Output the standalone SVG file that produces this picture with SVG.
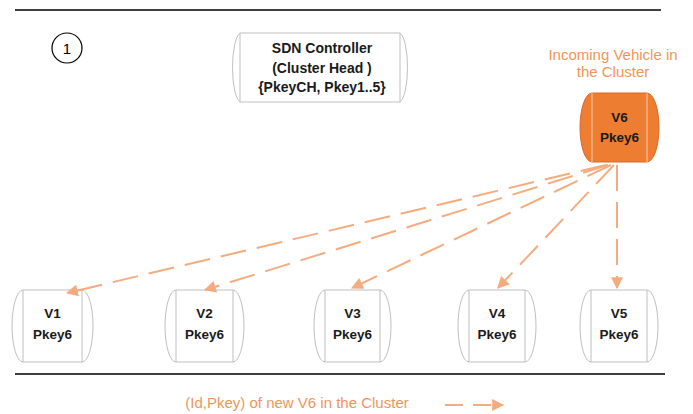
<svg xmlns="http://www.w3.org/2000/svg" width="693" height="414" viewBox="0 0 693 414">
<style>
.bg{fill:#ffffff}
.rule{stroke:#000;stroke-width:1.3;fill:none}
.node{fill:#ffffff;stroke:#bfbfbf;stroke-width:1}
.inner{stroke:#bfbfbf;stroke-width:1;fill:none}
.hot{fill:#ED7D31;stroke:#D9692A;stroke-width:1}
.hotinner{stroke:#F8CBAD;stroke-width:1;fill:none}
.lbl{font-family:"Liberation Sans",Arial,sans-serif;font-size:13.5px;font-weight:bold;fill:#1a1a1a;text-anchor:middle}
.sdn{font-size:14px}
.note{font-family:"Liberation Sans",Arial,sans-serif;font-size:15px;fill:#F0955A;text-anchor:middle}
.conn{stroke:#F4AC7E;stroke-width:2;fill:none;stroke-dasharray:26 11}
</style>
<defs>
<marker id="ah" viewBox="0 0 10 10" refX="9" refY="5" markerWidth="6.5" markerHeight="6" orient="auto" markerUnits="strokeWidth">
<path d="M0,0 L10,5 L0,10 Z" fill="#F4AC7E"/>
</marker>
</defs>
<rect class="bg" x="0" y="0" width="693" height="414"/>
<line class="rule" x1="15" y1="10" x2="661" y2="10"/>
<line class="rule" x1="15" y1="374" x2="665" y2="374"/>

<g id="step">
<circle cx="67" cy="48" r="15" fill="none" stroke="#000" stroke-width="1.2"/>
<text x="67" y="53.5" font-family="Liberation Sans,Arial,sans-serif" font-size="15" text-anchor="middle" fill="#000">1</text>
</g>

<g id="sdn">
<path class="node" d="M240,33 L400,33 A9,35 0 0 1 400,102 L240,102 A9,35 0 0 1 240,33 Z"/>
<line class="inner" x1="240" y1="33" x2="240" y2="102"/>
<line class="inner" x1="400" y1="33" x2="400" y2="102"/>
<text class="lbl sdn" x="322" y="53">SDN Controller</text>
<text class="lbl sdn" x="322" y="73">(Cluster Head )</text>
<text class="lbl sdn" x="322" y="92">{PkeyCH, Pkey1..5}</text>
</g>

<g id="incoming-label">
<text class="note" x="613" y="60">Incoming Vehicle in</text>
<text class="note" x="613" y="77">the Cluster</text>
</g>

<g id="v6">
<path class="hot" d="M592,93 L647,93 A12,34.5 0 0 1 647,162 L592,162 A12,34.5 0 0 1 592,93 Z"/>
<line class="hotinner" x1="592" y1="93" x2="592" y2="162"/>
<line class="hotinner" x1="647" y1="93" x2="647" y2="162"/>
<text class="lbl" x="619.5" y="122">V6</text>
<text class="lbl" x="619.5" y="142">Pkey6</text>
</g>

<g id="v1">
<path class="node" d="M23,290 L82,290 A11,36 0 0 1 82,362 L23,362 A11,36 0 0 1 23,290 Z"/>
<line class="inner" x1="23" y1="290" x2="23" y2="362"/>
<line class="inner" x1="82" y1="290" x2="82" y2="362"/>
<text class="lbl" x="52.5" y="318">V1</text>
<text class="lbl" x="52.5" y="339">Pkey6</text>
</g>

<g id="v2">
<path class="node" d="M176,290 L233,290 A11,36 0 0 1 233,362 L176,362 A11,36 0 0 1 176,290 Z"/>
<line class="inner" x1="176" y1="290" x2="176" y2="362"/>
<line class="inner" x1="233" y1="290" x2="233" y2="362"/>
<text class="lbl" x="204.5" y="318">V2</text>
<text class="lbl" x="204.5" y="339">Pkey6</text>
</g>

<g id="v3">
<path class="node" d="M325,290 L380,290 A11,36 0 0 1 380,362 L325,362 A11,36 0 0 1 325,290 Z"/>
<line class="inner" x1="325" y1="290" x2="325" y2="362"/>
<line class="inner" x1="380" y1="290" x2="380" y2="362"/>
<text class="lbl" x="352.5" y="318">V3</text>
<text class="lbl" x="352.5" y="339">Pkey6</text>
</g>

<g id="v4">
<path class="node" d="M469,290 L525,290 A11,36 0 0 1 525,362 L469,362 A11,36 0 0 1 469,290 Z"/>
<line class="inner" x1="469" y1="290" x2="469" y2="362"/>
<line class="inner" x1="525" y1="290" x2="525" y2="362"/>
<text class="lbl" x="497" y="318">V4</text>
<text class="lbl" x="497" y="339">Pkey6</text>
</g>

<g id="v5">
<path class="node" d="M591,290 L647,290 A11,36 0 0 1 647,362 L591,362 A11,36 0 0 1 591,290 Z"/>
<line class="inner" x1="591" y1="290" x2="591" y2="362"/>
<line class="inner" x1="647" y1="290" x2="647" y2="362"/>
<text class="lbl" x="619" y="318">V5</text>
<text class="lbl" x="619" y="339">Pkey6</text>
</g>

<g id="connectors">
<line class="conn" x1="606" y1="165" x2="67" y2="293" marker-end="url(#ah)"/>
<line class="conn" x1="608" y1="165" x2="205" y2="290" marker-end="url(#ah)"/>
<line class="conn" x1="611" y1="165" x2="352" y2="288" marker-end="url(#ah)"/>
<line class="conn" x1="614" y1="165" x2="498" y2="288" marker-end="url(#ah)"/>
<line class="conn" x1="617" y1="165" x2="617" y2="288" marker-end="url(#ah)"/>
</g>

<g id="legend">
<text class="note" x="297" y="408">(Id,Pkey) of new V6 in the Cluster</text>
<line x1="445" y1="405" x2="503" y2="405" stroke="#F4AC7E" stroke-width="2" stroke-dasharray="18 10" marker-end="url(#ah)"/>
</g>
</svg>
